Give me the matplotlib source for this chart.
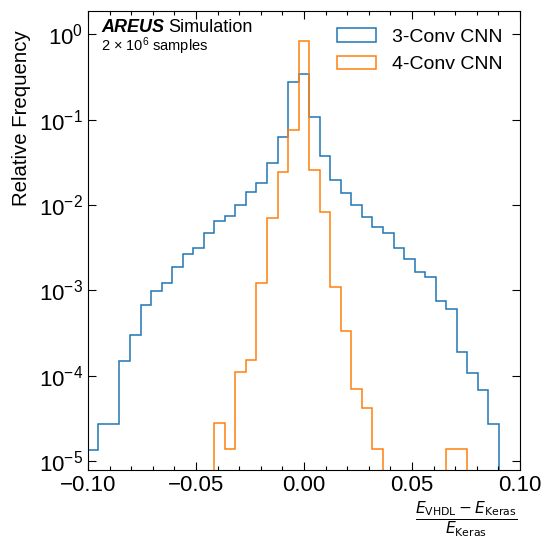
import numpy as np
import matplotlib
matplotlib.use("Agg")
import matplotlib.pyplot as plt
from matplotlib.patches import Patch
from matplotlib.ticker import MultipleLocator, LogLocator, NullLocator

# ----------------------------
# Data
# ----------------------------
# shared bin edges of both histograms
BIN_LO = -0.1001
BIN_HI = 0.0903
N_BINS = 39

# relative frequency per bin, 3-Conv CNN
CNN3_FREQ = [1.34e-5, 2.71e-5, 2.71e-5, 1.47e-4, 2.97e-4, 6.68e-4, 9.9e-4, 1.21e-3,
             1.86e-3, 2.66e-3, 3.13e-3, 4.69e-3, 6.54e-3, 7.43e-3, 1.0e-2, 1.43e-2,
             1.79e-2, 3.10e-2, 6.26e-2, 0.280, 0.340, 0.1065, 3.75e-2, 1.95e-2,
             1.39e-2, 9.94e-3, 7.28e-3, 5.56e-3, 4.66e-3, 3.10e-3, 2.31e-3, 1.65e-3,
             1.42e-3, 7.43e-4, 6.04e-4, 1.89e-4, 1.07e-4, 6.73e-5, 2.71e-5]

# relative frequency per bin, 4-Conv CNN
CNN4_FREQ = [0, 0, 0, 0, 0, 0, 0, 0, 0, 0, 0, 0,
             2.76e-5, 1.38e-5, 1.10e-4, 1.52e-4, 1.22e-3, 7.1e-3, 2.43e-2, 7.56e-2,
             0.841, 2.57e-2, 8.34e-3, 1.09e-3, 3.33e-4, 6.91e-5, 4.14e-5, 1.38e-5,
             0, 0, 0, 0, 0, 0, 1.38e-5, 1.38e-5, 0, 0, 0]

LABELS = ["3-Conv CNN", "4-Conv CNN"]
COLORS = ["#1f77b4", "#ff7f0e"]

# ----------------------------
# Style
# ----------------------------
plt.rcParams["font.family"] = "sans-serif"
plt.rcParams["font.sans-serif"] = ["Liberation Sans", "DejaVu Sans"]
plt.rcParams["mathtext.fontset"] = "custom"
plt.rcParams["mathtext.rm"] = "Liberation Sans"
plt.rcParams["mathtext.it"] = "Liberation Sans:italic"
plt.rcParams["mathtext.bf"] = "Liberation Sans:bold"


def main():
    edges = np.linspace(BIN_LO, BIN_HI, N_BINS + 1)

    fig = plt.figure(figsize=(5.45, 5.38), dpi=100)
    ax = fig.add_axes([0.1615, 0.1264, 0.7925, 0.8532])

    handles = []
    for freq, lab, col in zip([CNN3_FREQ, CNN4_FREQ], LABELS, COLORS):
        ax.stairs(freq, edges, baseline=0, color=col, linewidth=1.1)
        handles.append(Patch(facecolor="none", edgecolor=col, linewidth=1.1, label=lab))

    ax.set_yscale("log")
    ax.set_xlim(-0.1, 0.1)
    ax.set_ylim(7.83e-6, 1.88)

    ax.xaxis.set_major_locator(MultipleLocator(0.05))
    ax.xaxis.set_minor_locator(MultipleLocator(0.01))
    ax.yaxis.set_major_locator(LogLocator(base=10, numticks=10))
    ax.yaxis.set_minor_locator(NullLocator())
    ax.xaxis.set_major_formatter(plt.FuncFormatter(lambda v, p: f"{v:.2f}".replace("-", "\u2212")))

    ax.tick_params(which="both", direction="in", top=True, right=True, labelsize=16)
    ax.tick_params(which="major", length=5.5, width=0.8)
    ax.tick_params(which="minor", length=3, width=0.8)

    ax.set_ylabel("Relative Frequency", fontsize=14.7, loc="top")
    ax.yaxis.set_label_coords(-0.132, 0.958)
    ax.set_xlabel(r"$\frac{E_{\mathrm{VHDL}} - E_{\mathrm{Keras}}}{E_{\mathrm{Keras}}}$",
                  fontsize=16, loc="right", math_fontfamily="dejavusans")
    ax.xaxis.set_label_coords(0.995, -0.063)

    t1 = ax.text(0.030, 0.945, "AREUS", transform=ax.transAxes, fontsize=13,
                 fontweight="bold", fontstyle="italic", va="bottom", ha="left")
    ax.annotate("Simulation", xy=(1, 0), xycoords=t1, xytext=(3, 0),
                textcoords="offset points", fontsize=13, va="bottom", ha="left")
    ax.text(0.030, 0.912, "2 \u00d7 10$^6$ samples", transform=ax.transAxes,
            fontsize=10.5, va="baseline", ha="left")

    ax.legend(handles=handles, loc="upper right", frameon=False, fontsize=14)

    fig.savefig("out.png", dpi=100)
    plt.close(fig)


if __name__ == "__main__":
    main()
